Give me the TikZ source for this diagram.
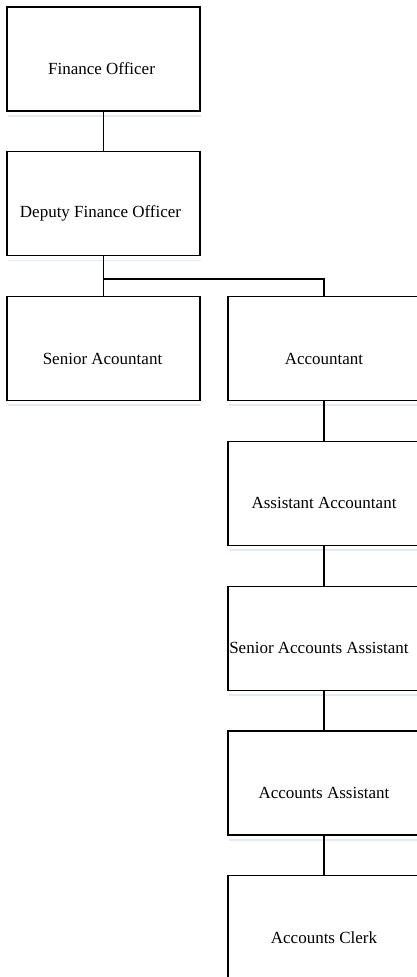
\documentclass[tikz,border=0pt]{standalone}
\usepackage{fontspec}
\setmainfont{Liberation Serif}
\definecolor{shadowblue}{RGB}{226,234,247}
\tikzset{
  orgbox/.style={draw=black, line width=1.2pt, fill=white, inner sep=0pt,
    minimum height=104pt},
  leftbox/.style={orgbox, minimum width=193pt},
  rightbox/.style={orgbox, minimum width=192pt},
  lbl/.style={inner sep=0pt, font=\fontsize{17pt}{20pt}\selectfont},
  link/.style={draw=black, line width=1.2pt},
  shade/.style={draw=shadowblue, line width=1.8pt}
}
\begin{document}
\begin{tikzpicture}[x=1pt, y=-1pt]
  \useasboundingbox (0,0) rectangle (417,977);
  \clip (0,0) rectangle (417,977);
  \fill[white] (0,0) rectangle (417,977);

  % boxes: left column and right column
  \node[leftbox]  (fo)  at (103.5, 59)    {};
  \node[leftbox]  (dfo) at (103.5, 203.8) {};
  \node[leftbox]  (sa)  at (103.5, 348.6) {};
  \node[rightbox] (acc) at (324, 348.6)   {};
  \node[rightbox] (aa)  at (324, 493.4)   {};
  \node[rightbox] (saa) at (324, 638.2)   {};
  \node[rightbox] (as)  at (324, 783)     {};
  \node[rightbox] (ac)  at (324, 927.8)   {};

  % soft shadow strip under each box
  \foreach \b in {fo,dfo,sa,acc,aa,saa,as,ac}
    \draw[shade] ([xshift=2pt,yshift=-4pt]\b.south west) -- ([yshift=-4pt]\b.south east);

  % titles, set a little below the box centres
  \node[lbl] (tfo)  at ([xshift=-2pt,yshift=-10pt]fo.center)  {Finance Officer};
  \node[lbl] (tdfo) at ([xshift=-3pt,yshift=-10pt]dfo.center) {Deputy Finance Officer};
  \node[lbl] (tsa)  at ([xshift=-1pt,yshift=-10pt]sa.center)  {Senior Acountant};
  \node[lbl] (tacc) at ([yshift=-10pt]acc.center) {Accountant};
  \node[lbl] (taa)  at ([yshift=-10pt]aa.center)  {Assistant Accountant};
  \node[lbl] (tsaa) at ([xshift=-5pt,yshift=-10pt]saa.center) {Senior Accounts Assistant};
  \node[lbl] (tas)  at ([yshift=-10pt]as.center)  {Accounts Assistant};
  \node[lbl] (tac)  at ([yshift=-10pt]ac.center)  {Accounts Clerk};

  % connectors
  \coordinate (bus) at (103.5, 279);
  \draw[link] (fo.south) -- (dfo.north);
  \draw[link] (dfo.south) -- (sa.north);
  \draw[link] (bus) -| (acc.north);
  \draw[link] (acc.south) -- (aa.north);
  \draw[link] (aa.south) -- (saa.north);
  \draw[link] (saa.south) -- (as.north);
  \draw[link] (as.south) -- (ac.north);
\end{tikzpicture}
\end{document}
